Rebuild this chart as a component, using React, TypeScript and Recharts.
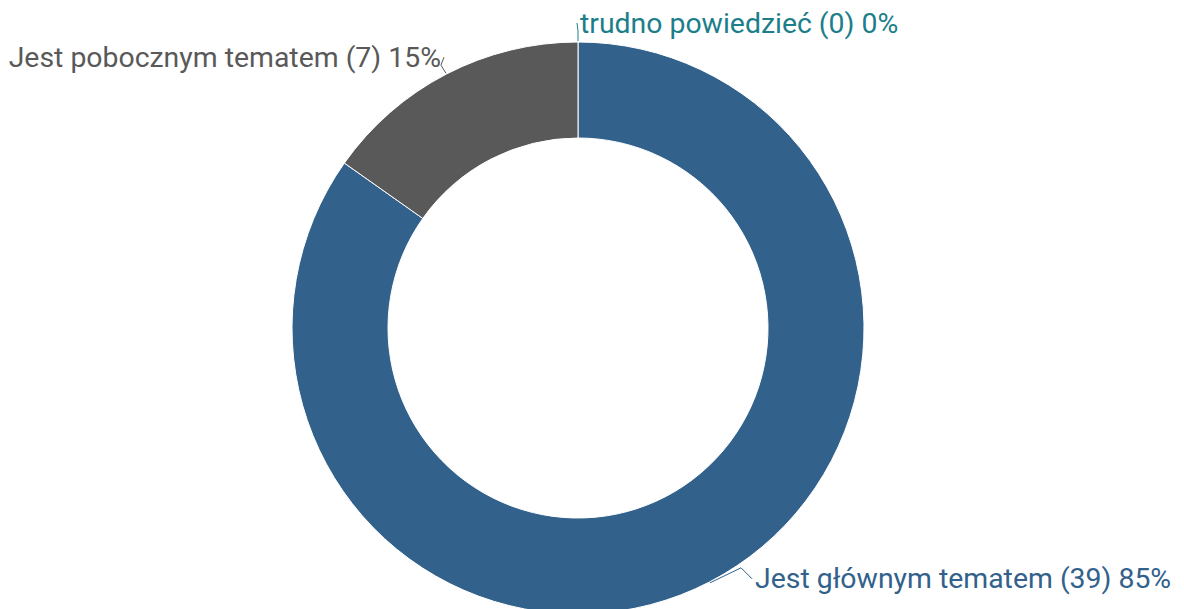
import { PieChart, Pie, Cell } from 'recharts';

const categories = ['Jest głównym tematem', 'Jest pobocznym tematem', 'trudno powiedzieć'];
const counts = [39, 7, 0];
const colors = ['#32618b', '#595959', '#1b7e8a'];

const total = counts.reduce((a, b) => a + b, 0);
const data = categories.map((name, i) => ({ name, value: counts[i] }));

const RAD = Math.PI / 180;

// label placement tweaks per slice (connector elbow + text offset)
const labelLayout = [
  { elbow: [31, -15], text: [45, -4], anchor: 'start' },
  { elbow: [-5, -8], text: [-5, -16], anchor: 'end' },
  { elbow: [0, -10], text: [2, -18], anchor: 'start' },
];

function renderLabel(props: any) {
  const { cx, cy, midAngle, outerRadius, index, value } = props;
  const sx = cx + (outerRadius + 1) * Math.cos(-midAngle * RAD);
  const sy = cy + (outerRadius + 1) * Math.sin(-midAngle * RAD);
  const l = labelLayout[index];
  const ex = sx + l.elbow[0];
  const ey = sy + l.elbow[1];
  const tx = sx + l.text[0];
  const ty = sy + l.text[1];
  const pct = Math.round((value / total) * 100);
  return (
    <g key={index}>
      <polyline
        points={`${sx},${sy} ${ex},${ey} ${tx - (l.anchor === 'start' ? 3 : -3)},${ty}`}
        fill="none"
        stroke={colors[index]}
        strokeWidth={1}
      />
      <text
        x={tx}
        y={ty}
        fill={colors[index]}
        textAnchor={l.anchor}
        dominantBaseline="central"
        fontSize={28.4}
        fontFamily="Roboto"
      >
        {`${categories[index]} (${value}) ${pct}%`}
      </text>
    </g>
  );
}

export default function App() {
  return (
    <div style={{ position: 'absolute', left: 0, top: 0 }}>
      <PieChart width={1184} height={609} margin={{ top: 0, right: 0, bottom: 0, left: 0 }}>
        <Pie
          data={data}
          dataKey="value"
          cx={578}
          cy={328}
          innerRadius={190}
          outerRadius={286}
          startAngle={90}
          endAngle={-270}
          stroke="#ffffff"
          strokeWidth={1}
          label={renderLabel}
          labelLine={false}
          isAnimationActive={false}
        >
          {data.map((d, i) => (
            <Cell key={d.name} fill={colors[i]} />
          ))}
        </Pie>
      </PieChart>
    </div>
  );
}
